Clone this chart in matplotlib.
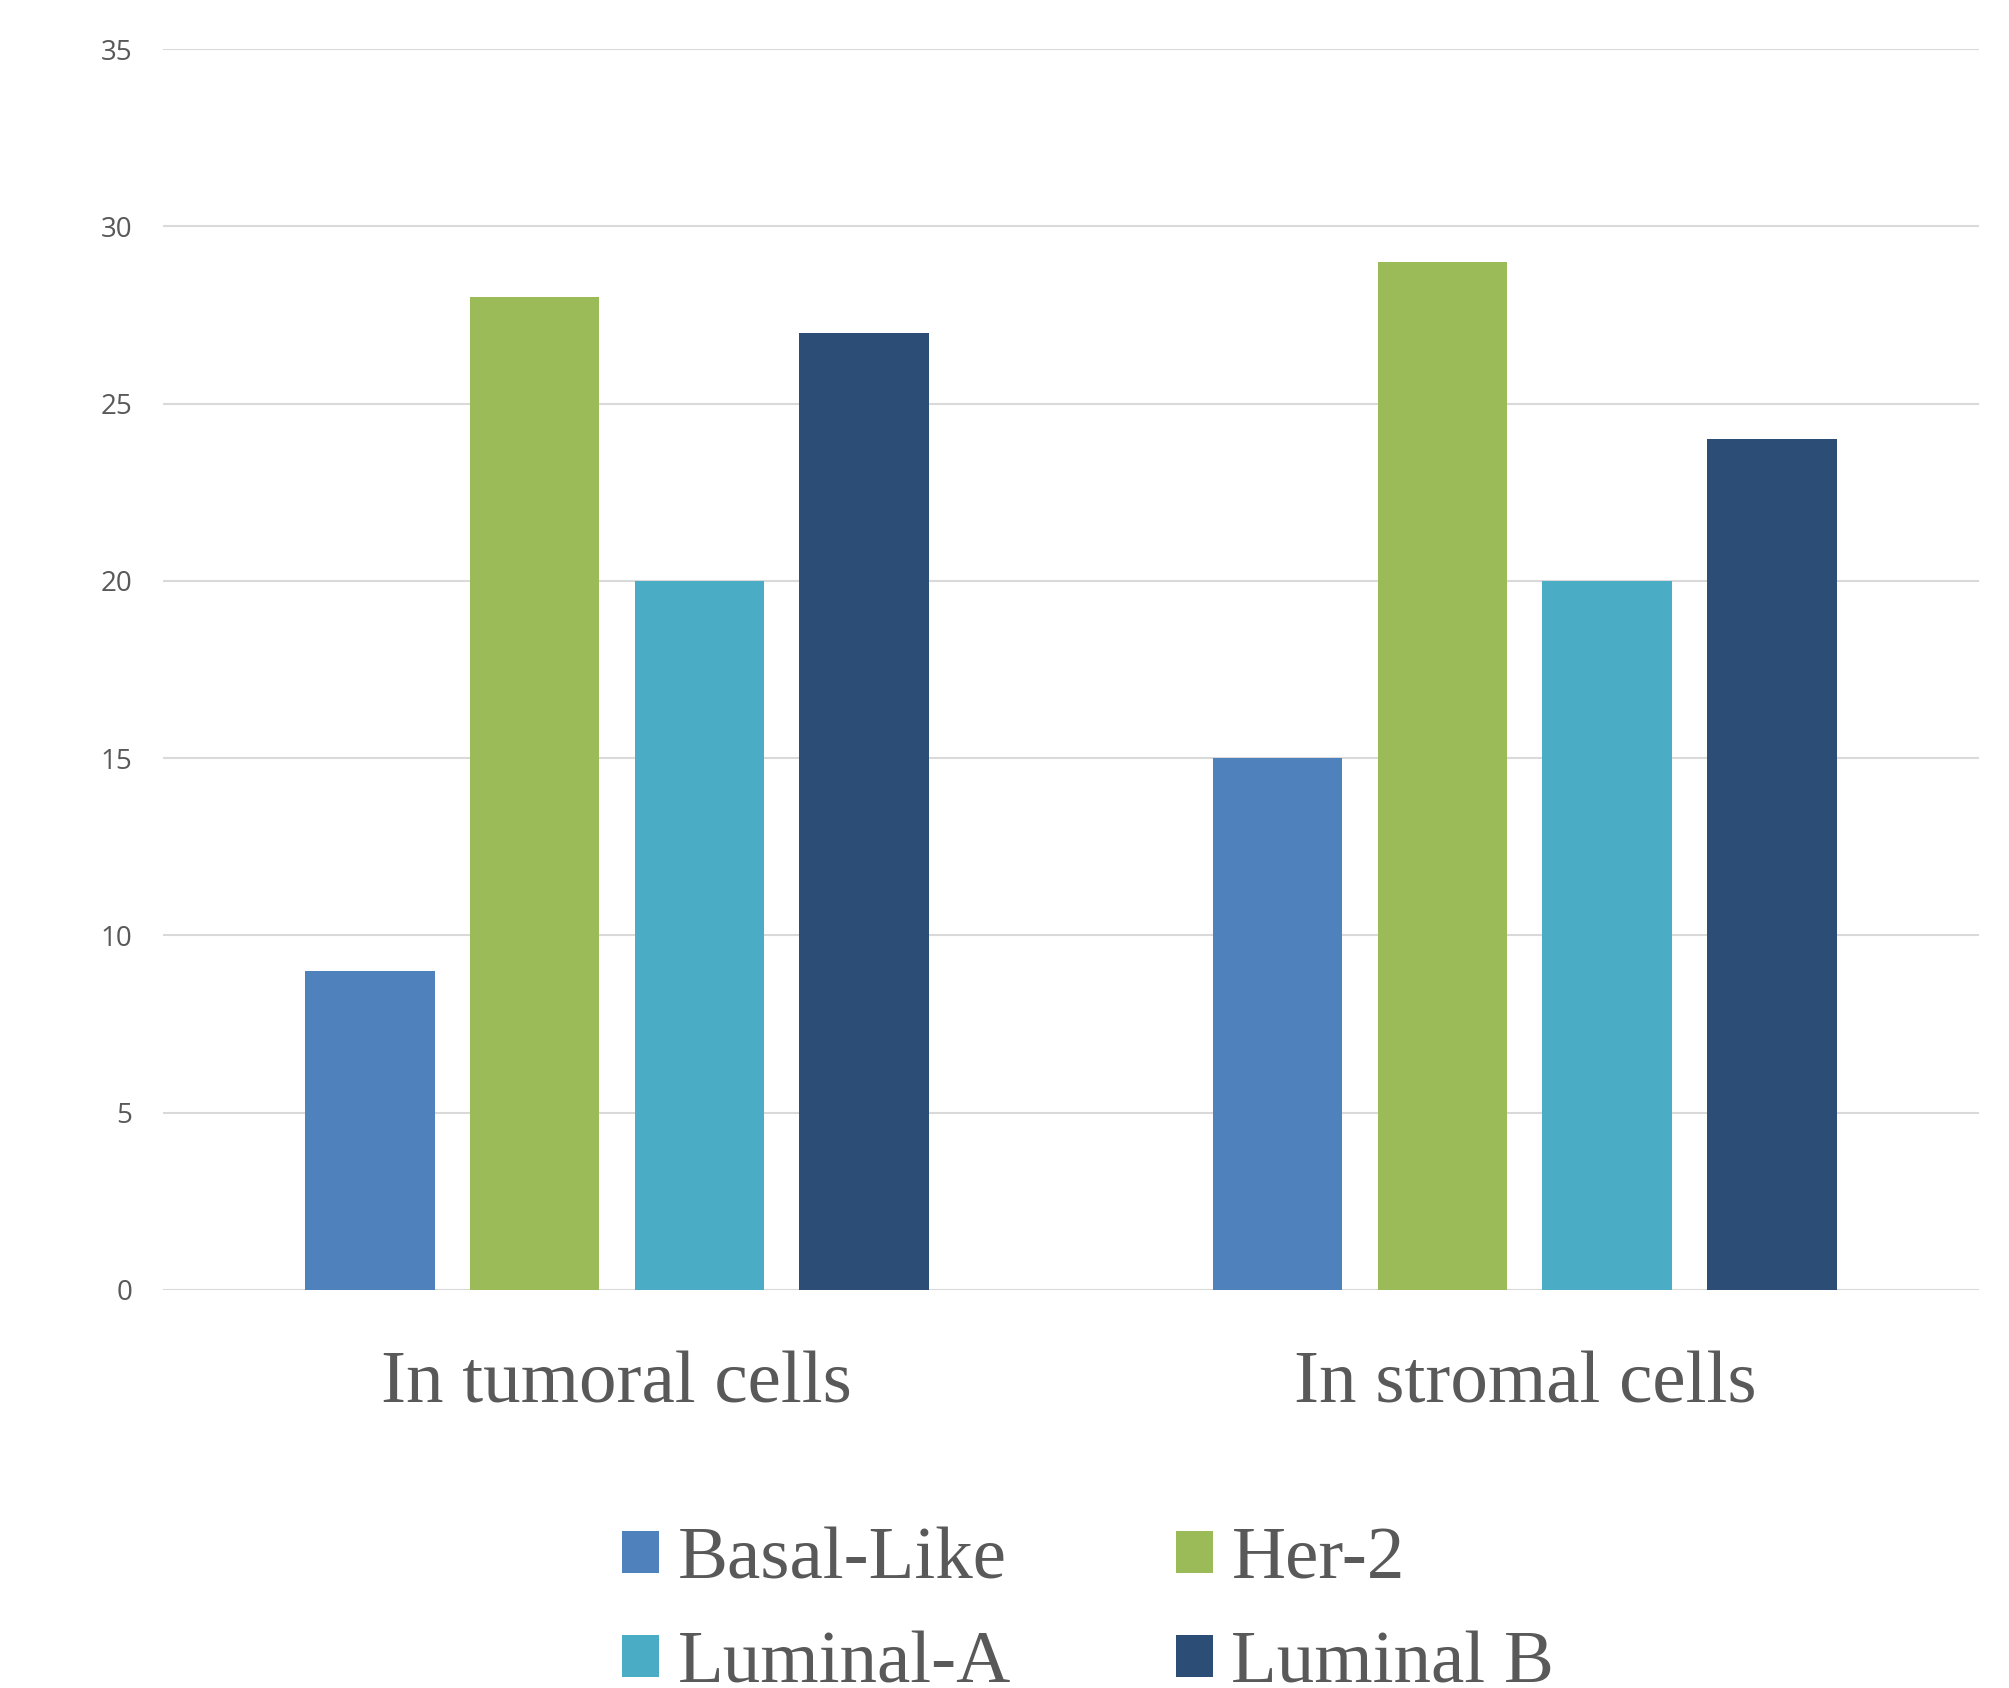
import numpy as np
import matplotlib
matplotlib.use("Agg")
import matplotlib.pyplot as plt

# data
groups = ["In tumoral cells", "In stromal cells"]
subtypes = ["Basal-Like", "Her-2", "Luminal-A", "Luminal B"]
basal_like = [9, 15]
her_2 = [28, 29]
luminal_a = [20, 20]
luminal_b = [27, 24]
colors = ["#4F81BD", "#9BBB59", "#4BACC6", "#2C4D75"]
yticks = [0, 5, 10, 15, 20, 25, 30, 35]

series = [basal_like, her_2, luminal_a, luminal_b]

fig = plt.figure(figsize=(20.09, 16.88), dpi=100)
ax = fig.add_axes([0.0811, 0.2358, 0.9039, 0.7351])

x = np.arange(len(groups))
width = 0.1427
step = 0.1815
bars = []
for i, (vals, name) in enumerate(zip(series, subtypes)):
    offset = (i - 1.5) * step
    bars.append(ax.bar(x + offset, vals, width, color=colors[i], label=name, zorder=3))

ax.set_xlim(-0.5, 1.5)
ax.set_ylim(0, 35)
ax.set_yticks(yticks)
ax.yaxis.grid(True, color="#D9D9D9", linewidth=1.5, zorder=0)
ax.set_axisbelow(True)
for s in ax.spines.values():
    s.set_visible(False)
ax.tick_params(axis="y", length=0, pad=22, labelsize=20, labelcolor="#595959")
for lab in ax.get_yticklabels():
    lab.set_family("Open Sans")
ax.set_xticks(x)
ax.set_xticklabels(groups, family="Liberation Serif", fontsize=54, color="#595959")
ax.tick_params(axis="x", length=0, pad=44)

# legend is filled row by row: Basal-Like, Her-2 / Luminal-A, Luminal B
order = [0, 2, 1, 3]
fig.legend([bars[i] for i in order], [subtypes[i] for i in order],
           loc="center", bbox_to_anchor=(0.5417, 0.0445), ncol=2, frameon=False,
           prop={"family": "Liberation Serif", "size": 54}, labelcolor="#595959",
           handlelength=0.49, handleheight=0.49, handletextpad=0.25,
           columnspacing=2.2, labelspacing=0.48, borderpad=0)

fig.savefig("out.png", dpi=100)
